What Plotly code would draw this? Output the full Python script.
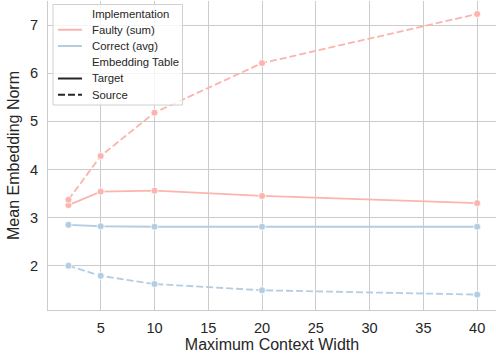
import plotly.graph_objects as go

context_width = [2, 5, 10, 20, 40]
faulty_target = [3.26, 3.54, 3.56, 3.45, 3.30]
faulty_source = [3.37, 4.28, 5.18, 6.21, 7.23]
correct_target = [2.85, 2.82, 2.81, 2.81, 2.81]
correct_source = [2.00, 1.79, 1.62, 1.49, 1.40]

x_ticks = [5, 10, 15, 20, 25, 30, 35, 40]
y_ticks = [2, 3, 4, 5, 6, 7]

legend_labels = ["Implementation", "Faulty (sum)", "Correct (avg)",
                 "Embedding Table", "Target", "Source"]

FAULTY = "#fbb4ae"
CORRECT = "#b3cde3"
TEXT = "#262626"
FONT = "Liberation Sans, Arial, sans-serif"
DASH = "7px,3px"

# figure geometry (pixels)
W, H = 496, 360
ML, MR, MT, MB = 48, 0, 1, 50
PW, PH = W - ML - MR, H - MT - MB


def px(xp):
    return (xp - ML) / PW


def py(yp):
    return (H - MB - yp) / PH


fig = go.Figure()

series = [
    (faulty_target, FAULTY, "solid"),
    (faulty_source, FAULTY, DASH),
    (correct_target, CORRECT, "solid"),
    (correct_source, CORRECT, DASH),
]
for ys, color, dash in series:
    fig.add_trace(go.Scatter(
        x=context_width, y=ys, mode="lines+markers",
        line=dict(color=color, width=1.8, dash=dash),
        marker=dict(color=color, size=7, line=dict(color="white", width=0.8)),
        showlegend=False, hoverinfo="skip",
    ))

# legend (drawn manually to match the compact matplotlib-style legend)
legend_styles = [None, (FAULTY, "solid"), (CORRECT, "solid"),
                 None, (TEXT, "solid"), (TEXT, DASH)]
shapes = [dict(
    type="rect", xref="paper", yref="paper",
    x0=px(53), x1=px(182.5), y0=py(105), y1=py(4.5),
    fillcolor="rgba(255,255,255,0.8)", line=dict(color="#d0d0d0", width=1),
    layer="above",
)]
annotations = []
row_y0, row_step = 13.5, 16.25
for i, (label, style) in enumerate(zip(legend_labels, legend_styles)):
    yc = row_y0 + i * row_step
    if style is not None:
        color, dash = style
        shapes.append(dict(
            type="line", xref="paper", yref="paper",
            x0=px(58), x1=px(82), y0=py(yc), y1=py(yc),
            line=dict(color=color, width=2, dash=dash), layer="above",
        ))
    annotations.append(dict(
        text=label, xref="paper", yref="paper", x=px(90), y=py(yc),
        xanchor="left", yanchor="middle", showarrow=False,
        font=dict(family=FONT, size=11.3, color=TEXT),
    ))

axis_common = dict(
    showgrid=True, gridcolor="#cccccc", gridwidth=1,
    showline=True, linecolor="#cccccc", linewidth=1,
    zeroline=False, ticks="", automargin=False,
    tickfont=dict(family=FONT, size=14.6, color=TEXT),
)

fig.update_layout(
    width=W, height=H,
    margin=dict(l=ML, r=MR, t=MT, b=MB),
    plot_bgcolor="white", paper_bgcolor="white",
    font=dict(family=FONT, color=TEXT),
    showlegend=False,
    shapes=shapes, annotations=annotations,
    xaxis=dict(
        range=[0.1, 41.75], tickvals=x_ticks,
        title=dict(text="Maximum Context Width", font=dict(family=FONT, size=16, color=TEXT), standoff=2),
        ticklabelstandoff=4,
        **axis_common,
    ),
    yaxis=dict(
        range=[1.08, 7.5], tickvals=y_ticks,
        title=dict(text="Mean Embedding Norm", font=dict(family=FONT, size=16, color=TEXT), standoff=6),
        ticklabelstandoff=6,
        **axis_common,
    ),
)

fig.write_html("out.html", config={"displayModeBar": False},
               post_script="document.body.style.margin='0px';")
